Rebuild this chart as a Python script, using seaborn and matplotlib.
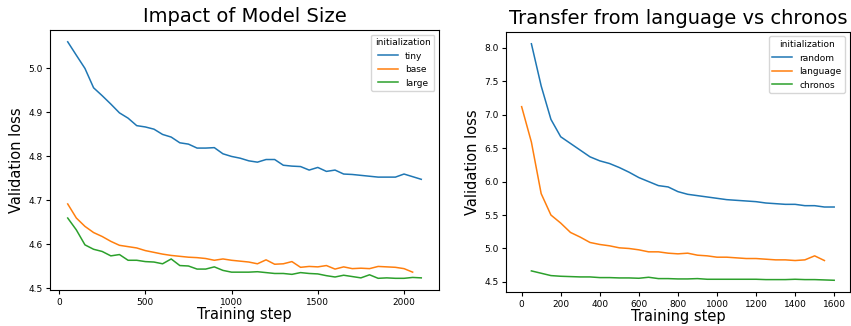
import numpy as np
import pandas as pd
import seaborn as sns
import matplotlib.pyplot as plt

# --- left panel: model size ---
steps_size = list(range(50, 2101, 50))
tiny = [5.0605, 5.030, 5.000, 4.956, 4.938, 4.919, 4.899, 4.887, 4.870, 4.867,
        4.862, 4.850, 4.844, 4.831, 4.828, 4.819, 4.819, 4.820, 4.806, 4.800,
        4.796, 4.790, 4.787, 4.793, 4.793, 4.780, 4.778, 4.777, 4.769, 4.775,
        4.766, 4.769, 4.760, 4.759, 4.757, 4.755, 4.753, 4.753, 4.753, 4.760,
        4.754, 4.748]
base = [4.692, 4.660, 4.641, 4.627, 4.618, 4.607, 4.598, 4.595, 4.592, 4.586,
        4.582, 4.578, 4.575, 4.573, 4.571, 4.570, 4.568, 4.564, 4.567, 4.564,
        4.562, 4.560, 4.556, 4.565, 4.555, 4.556, 4.561, 4.548, 4.550, 4.549,
        4.552, 4.544, 4.549, 4.545, 4.546, 4.545, 4.550, 4.549, 4.548, 4.545,
        4.537]
large = [4.660, 4.633, 4.599, 4.589, 4.584, 4.574, 4.577, 4.564, 4.564, 4.561,
         4.560, 4.556, 4.567, 4.552, 4.551, 4.544, 4.544, 4.549, 4.541, 4.537,
         4.537, 4.537, 4.538, 4.536, 4.534, 4.534, 4.532, 4.536, 4.534, 4.533,
         4.529, 4.526, 4.530, 4.527, 4.524, 4.531, 4.523, 4.524, 4.523, 4.523,
         4.525, 4.524]

# --- right panel: transfer ---
steps_random = list(range(50, 1601, 50))
random_init = [8.06, 7.43, 6.93, 6.67, 6.57, 6.47, 6.37, 6.31, 6.27, 6.21,
               6.14, 6.06, 6.00, 5.94, 5.92, 5.85, 5.81, 5.79, 5.77, 5.75,
               5.73, 5.72, 5.71, 5.70, 5.68, 5.67, 5.66, 5.66, 5.64, 5.64,
               5.62, 5.62]
steps_language = list(range(0, 1551, 50))
language_init = [7.12, 6.59, 5.82, 5.50, 5.38, 5.24, 5.17, 5.09, 5.06, 5.04,
                 5.01, 5.00, 4.98, 4.95, 4.95, 4.93, 4.92, 4.93, 4.90, 4.89,
                 4.87, 4.87, 4.86, 4.85, 4.85, 4.84, 4.83, 4.83, 4.82, 4.83,
                 4.89, 4.82]
steps_chronos = list(range(50, 1601, 50))
chronos_init = [4.665, 4.63, 4.595, 4.585, 4.58, 4.575, 4.575, 4.565, 4.565, 4.56,
                4.56, 4.555, 4.57, 4.55, 4.55, 4.545, 4.545, 4.55, 4.54, 4.54,
                4.54, 4.54, 4.54, 4.54, 4.535, 4.535, 4.535, 4.54, 4.535, 4.535,
                4.53, 4.525]


def long_df(parts):
    frames = []
    for name, x, y in parts:
        frames.append(pd.DataFrame({'step': x, 'loss': y, 'initialization': name}))
    return pd.concat(frames, ignore_index=True)


df_size = long_df([('tiny', steps_size, tiny),
                   ('base', steps_size[:len(base)], base),
                   ('large', steps_size, large)])
df_transfer = long_df([('random', steps_random, random_init),
                       ('language', steps_language, language_init),
                       ('chronos', steps_chronos, chronos_init)])

fig = plt.figure(figsize=(8.51, 3.26), dpi=100)
ax1 = fig.add_axes([0.0588, 0.110, 0.457, 0.798])
ax2 = fig.add_axes([0.5946, 0.104, 0.404, 0.798])

sns.lineplot(data=df_size, x='step', y='loss', hue='initialization', ax=ax1, linewidth=1.1)
sns.lineplot(data=df_transfer, x='step', y='loss', hue='initialization', ax=ax2, linewidth=1.1)

ax1.set_title('Impact of Model Size', fontsize=14)
ax2.set_title('Transfer from language vs chronos', fontsize=14)
ax2.set_xticks(range(0, 1601, 200))
for ax in (ax1, ax2):
    ax.set_xlabel('Training step', fontsize=10.5, labelpad=0)
    ax.set_ylabel('Validation loss', fontsize=10.5, labelpad=3)
    ax.tick_params(labelsize=6.5, length=3, pad=2.5)
    ax.legend(title='initialization', loc='upper right', fontsize=6.5,
              title_fontsize=6.5, handlelength=2.2)

fig.savefig('out.png', dpi=100)
